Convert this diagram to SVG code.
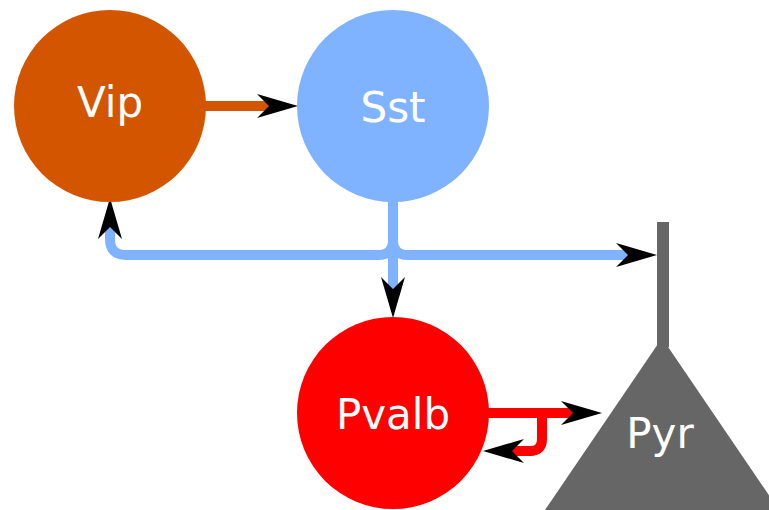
<svg xmlns="http://www.w3.org/2000/svg" width="769" height="510" viewBox="0 0 769 510">
<style>
.lbl{font-family:"DejaVu Sans",sans-serif;font-size:42px;fill:#ffffff;text-anchor:middle;dominant-baseline:central}
.c{fill:none;stroke-width:10;stroke-linejoin:round}
</style>
<g id="connectors">
<path class="c" stroke="#d45500" d="M200,106 H270" />
<path d="M298,106 L257,94 L269,106 L257,118 Z" fill="#000"/>
<path class="c" stroke="#80b3ff" d="M393,200 V290"/>
<path d="M393,318 L381,277 L393,289 L405,277 Z" fill="#000"/>
<path class="c" stroke="#80b3ff" d="M393,200 V240 Q393,255 378,255 H126 Q110,255 110,239 V225"/>
<path d="M110,198 L98,239 L110,227 L122,239 Z" fill="#000"/>
<path class="c" stroke="#80b3ff" d="M393,200 V240 Q393,255 408,255 H630"/>
<path d="M657,255 L616,243 L628,255 L616,267 Z" fill="#000"/>
<path class="c" stroke="#ff0000" d="M485,413 H575"/>
<path d="M602,413 L561,401 L573,413 L561,425 Z" fill="#000"/>
<path class="c" stroke="#ff0000" d="M542,413 V439 Q542,451 530,451 H510"/>
<path d="M483,451 L524,439 L512,451 L524,463 Z" fill="#000"/>
</g>
<g id="Vip">
<circle cx="110" cy="106" r="96" fill="#d45500"/>
<text class="lbl" x="110" y="102">Vip</text>
</g>
<g id="Sst">
<circle cx="393" cy="106" r="96" fill="#80b3ff"/>
<text class="lbl" x="393" y="107">Sst</text>
</g>
<g id="Pvalb">
<circle cx="393" cy="413" r="96" fill="#ff0000"/>
<text class="lbl" x="393" y="414">Pvalb</text>
</g>
<g id="Pyr">
<rect x="657" y="222" width="12" height="125" fill="#666666"/>
<path d="M662,338 L545,510 L779,510 Z" fill="#666666"/>
<text class="lbl" x="660" y="433">Pyr</text>
</g>
</svg>
